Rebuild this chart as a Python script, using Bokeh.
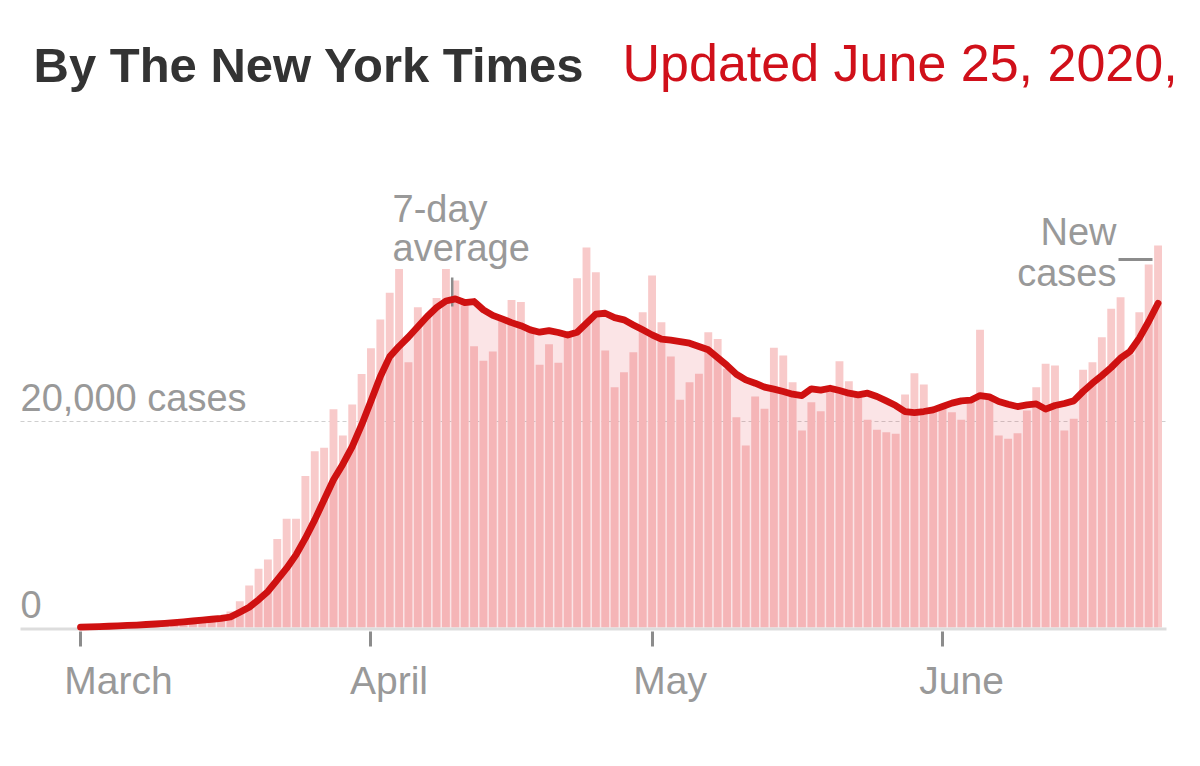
import pandas as pd
from bokeh.plotting import figure
from bokeh.models import Range1d, FixedTicker, LinearAxis
from bokeh.embed import file_html
from bokeh.resources import INLINE
from bokeh.core.properties import value

# ---------------- data ----------------
start_date = "2020-03-01"

new_cases = [
    20, 30, 40, 60, 80, 110, 150, 200, 260, 330, 420, 520, 640,
    600, 750, 1100, 1550,
    2560, 4080, 5700, 6600, 8600, 10550, 10550, 14700, 17100, 17450, 21200,
    18650, 21650, 24600, 27100, 29900, 32500, 34800,
    25760, 31100, 30300, 32000, 34800, 33700, 31600, 27300, 25900, 26800,
    29800, 31800, 31600, 29000, 25500, 27500, 25700, 28300, 33900, 36900, 34500,
    26890, 23330, 24790, 26730, 30610, 34170, 29640, 26310, 22100, 23820,
    24630, 28670, 28020, 25110, 20420, 17670, 22430, 21230, 27150, 26410, 23820,
    19120, 21870, 21000, 23330, 25860, 23910, 22690, 20160, 19190, 18960,
    18800, 22620, 24690, 23590, 21230, 21390, 20910, 20160, 22200, 28900, 22360, 18640,
    18320, 18870, 21070, 23330, 25600, 25440, 19120, 20260, 25020, 25760,
    28190, 30940, 32070, 26500, 30610, 35240, 37080,
]

avg_7day = [
    30, 60, 90, 120, 160, 200, 240, 290, 340, 400, 470, 550, 630,
    720, 800, 880, 1020,
    1490, 1970, 2690, 3500, 4630, 5760, 7050, 8670, 10450, 12400, 14340,
    15860, 17570, 19670, 22000, 24370, 26300, 27300,
    28200, 29200, 30200, 31060, 31700, 31900, 31550, 31650, 30840, 30300,
    29960, 29600, 29300, 28900, 28670, 28830, 28640, 28400, 28670, 29540, 30420,
    30510, 30090, 29870, 29380, 28900, 28410, 27990, 27890, 27760, 27600,
    27280, 26960, 26210, 25440, 24590, 24040, 23720, 23330, 23140, 22910, 22650,
    22520, 23170, 23040, 23230, 23010, 22750, 22590, 22750, 22430, 22000,
    21550, 20970, 20870, 20970, 21130, 21450, 21780, 22000, 22070, 22520, 22390, 21940,
    21680, 21450, 21620, 21710, 21200, 21550, 21750, 22000, 22910, 23720,
    24460, 25240, 26150, 26790, 28090, 29710, 31480,
]

month_starts = ["2020-03-01", "2020-04-01", "2020-05-01", "2020-06-01"]
month_labels = ["March", "April", "May", "June"]

ref_values = [0, 20000]
ref_labels = ["0", "20,000 cases"]

title_left = "By The New York Times"
title_right = "Updated June 25, 2020,"

# ---------------- derived positions ----------------
dates = pd.date_range(start_date, periods=len(new_cases), freq="D")
xs = list((dates - dates[0]).days)
month_x = [int((pd.Timestamp(m) - dates[0]).days) for m in month_starts]

# page geometry (canvas pixels -> data units)
PX_PER_DAY = 9.37
PX_PER_1000 = 10.3
U = 1000.0 / PX_PER_1000
X0_PX, Y0_PX = 80.0, 627.0   # where March 1 / zero sit on the canvas


def px(cx):
    return (cx - X0_PX) / PX_PER_DAY


def py(cy):
    return (Y0_PX - cy) * U


def mid(baseline_px, size_px):
    # vertical centre of a text line whose baseline sits at baseline_px
    return py(baseline_px - 0.3465 * size_px)


# month labels are set slightly right of their tick (left-aligned look)
label_center_offset_px = [38, 18, 18, 19]
label_x = [round(m + off / PX_PER_DAY, 3) for m, off in zip(month_x, label_center_offset_px)]

W, H = 1184, 750
frame_bottom = 631
p = figure(
    width=W, height=H, output_backend="svg", toolbar_location=None,
    x_range=Range1d(px(0), px(W)),
    y_range=Range1d(py(frame_bottom), py(0)),
    x_axis_location=None, y_axis_location=None,
    min_border_left=0, min_border_right=0, min_border_top=0,
    min_border_bottom=H - frame_bottom,
)
p.outline_line_color = None
p.xgrid.visible = False
p.ygrid.visible = False
p.background_fill_color = "white"
p.border_fill_color = "white"

FONT = value("Liberation Sans")
GRAY = "#999999"
ANN = 38

# dashed 20,000 reference line
p.segment(x0=[px(20)], x1=[px(1166)], y0=[ref_values[1]], y1=[ref_values[1]],
          line_color="#cfcfcf", line_width=1.2, line_dash="4 3")

# bars
p.vbar(x=xs, top=new_cases, bottom=0, width=0.84, fill_color="#f8caca", line_color=None)
# area under the 7-day average
p.varea(x=xs, y1=[0] * len(xs), y2=avg_7day, fill_color="#e0323c", fill_alpha=0.13)

# baseline
p.segment(x0=[px(20)], x1=[px(1166)], y0=[-1.5 * U], y1=[-1.5 * U],
          line_color="#dddddd", line_width=3)

# annotation pointers
p.segment(x0=[px(451.7)], x1=[px(451.7)], y0=[py(277)], y1=[py(306)],
          line_color="#8c8c8c", line_width=2.5)
p.segment(x0=[px(1118)], x1=[px(1152)], y0=[py(259)], y1=[py(259)],
          line_color="#8c8c8c", line_width=3)

# 7-day average line
p.line(x=xs, y=avg_7day, line_color="#cf1111", line_width=6.8,
       line_join="round", line_cap="round")

# reference labels ("0", "20,000 cases"), 10px above their level
p.text(x=[px(20)] * len(ref_values),
       y=[v + (10 + 0.3465 * ANN) * U for v in ref_values], text=ref_labels,
       text_font=FONT, text_font_size=f"{ANN}px", text_color=GRAY,
       text_align="left", text_baseline="middle")

# annotation texts
p.text(x=[px(392)] * 2, y=[mid(222, ANN), mid(261, ANN)], text=["7-day", "average"],
       text_font=FONT, text_font_size=f"{ANN}px", text_color=GRAY,
       text_align="left", text_baseline="middle")
p.text(x=[px(1116)] * 2, y=[mid(245, ANN), mid(286, ANN)], text=["New", "cases"],
       text_font=FONT, text_font_size=f"{ANN}px", text_color=GRAY,
       text_align="right", text_baseline="middle")

# titles
p.text(x=[px(33)], y=[mid(81, 49)], text=[title_left], text_font=FONT,
       text_font_size="49px", text_font_style="bold", text_color="#333333",
       text_align="left", text_baseline="middle")
p.text(x=[px(622)], y=[mid(81, 52)], text=[title_right], text_font=FONT,
       text_font_size="52px", text_color="#d0101a",
       text_align="left", text_baseline="middle")

# x axis: month ticks drawn as minor ticks, labels on (invisible) major ticks
x_axis = LinearAxis(
    ticker=FixedTicker(ticks=label_x, minor_ticks=month_x),
    major_tick_out=15, major_tick_in=0, major_tick_line_color=None,
    minor_tick_out=15, minor_tick_in=0,
    minor_tick_line_width=3, minor_tick_line_color="#8c8c8c",
    axis_line_color=None,
    major_label_text_font="Liberation Sans", major_label_text_font_size="39px",
    major_label_text_color=GRAY, major_label_standoff=12,
    major_label_overrides={k: lab for k, lab in zip(label_x, month_labels)},
)
p.add_layout(x_axis, "below")

open("out.html", "w").write(file_html(p, INLINE))
